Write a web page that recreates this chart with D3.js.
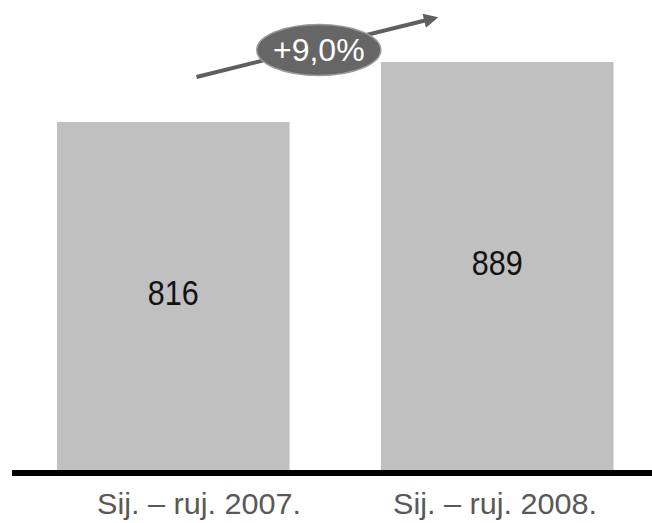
<!DOCTYPE html>
<html>
<head>
<meta charset="utf-8">
<script src="https://cdn.jsdelivr.net/npm/d3@7"></script>
<style>
  body { margin: 0; background: #fff; }
  svg { display: block; }
</style>
</head>
<body>
<script>
// data
const categories = ["Sij. – ruj. 2007.", "Sij. – ruj. 2008."];
const values = [816, 889];
const changeLabel = "+9,0%";

const w = 652, h = 523;
const base = 470;
const narrow = "'Liberation Sans Narrow', 'Arial Narrow', 'Liberation Sans', sans-serif";

const svg = d3.select("body").append("svg")
  .attr("width", w)
  .attr("height", h);

// scales
const xScale = d3.scaleBand().domain(categories)
  .range([57, 613.5])
  .paddingInner(0.282)
  .paddingOuter(0);

const yScale = d3.scaleLinear().domain([392.6, 964.4]).range([base, 0]);

// label positions (labels sit a bit off the bar centres in the original)
const labelScale = d3.scalePoint().domain(categories).range([199, 495]);

const data = categories.map((c, i) => ({ cat: c, val: values[i] }));

// bars
svg.selectAll("rect.bar")
  .data(data)
  .enter()
  .append("rect")
  .attr("class", "bar")
  .attr("x", d => xScale(d.cat))
  .attr("y", d => yScale(d.val))
  .attr("width", xScale.bandwidth())
  .attr("height", d => base - yScale(d.val))
  .attr("fill", "#c0c0c0");

// value labels (condensed look via textLength)
svg.selectAll("text.val")
  .data(data)
  .enter()
  .append("text")
  .attr("class", "val")
  .attr("x", d => xScale(d.cat) + xScale.bandwidth() / 2)
  .attr("y", d => (yScale(d.val) + base) / 2 + 9)
  .attr("text-anchor", "middle")
  .attr("font-family", narrow)
  .attr("font-size", 35)
  .attr("textLength", 51)
  .attr("lengthAdjust", "spacingAndGlyphs")
  .attr("fill", "#111")
  .text(d => d.val);

// baseline
svg.append("line")
  .attr("x1", 12).attr("x2", w)
  .attr("y1", base + 3).attr("y2", base + 3)
  .attr("stroke", "#000")
  .attr("stroke-width", 6);

// category labels
svg.selectAll("text.cat")
  .data(categories)
  .enter()
  .append("text")
  .attr("class", "cat")
  .attr("x", d => labelScale(d))
  .attr("y", 514)
  .attr("text-anchor", "middle")
  .attr("font-family", narrow)
  .attr("font-size", 30)
  .attr("textLength", 204)
  .attr("lengthAdjust", "spacingAndGlyphs")
  .attr("fill", "#595959")
  .text(d => d);

// growth arrow
const off = 45;
const x1 = xScale(categories[0]) + xScale.bandwidth() * 0.6;
const y1 = yScale(values[0]) - off;
const x2 = xScale(categories[1]) + xScale.bandwidth() * 0.25;
const y2 = yScale(values[1]) - off;

svg.append("defs").append("marker")
  .attr("id", "head")
  .attr("viewBox", "0 0 10 10")
  .attr("refX", 2).attr("refY", 5)
  .attr("markerWidth", 4.5).attr("markerHeight", 3.6)
  .attr("orient", "auto")
  .append("path")
  .attr("d", "M0,0 L10,5 L0,10 Z")
  .attr("fill", "#5f5f5f");

svg.append("line")
  .attr("x1", x1).attr("y1", y1)
  .attr("x2", x2 - 12).attr("y2", y2 + 3)
  .attr("stroke", "#5f5f5f")
  .attr("stroke-width", 4)
  .attr("marker-end", "url(#head)");

const cx = (x1 + x2) / 2 + 1, cy = (y1 + y2) / 2 + 3;
svg.append("ellipse")
  .attr("cx", cx).attr("cy", cy)
  .attr("rx", 62).attr("ry", 25.5)
  .attr("fill", "#666")
  .attr("stroke", "#9a9a9a")
  .attr("stroke-width", 1.5);

svg.append("text")
  .attr("x", cx).attr("y", cy + 11)
  .attr("text-anchor", "middle")
  .attr("font-family", "'Liberation Sans', Arial, sans-serif")
  .attr("font-size", 32)
  .attr("fill", "#fff")
  .text(changeLabel);
</script>
</body>
</html>
